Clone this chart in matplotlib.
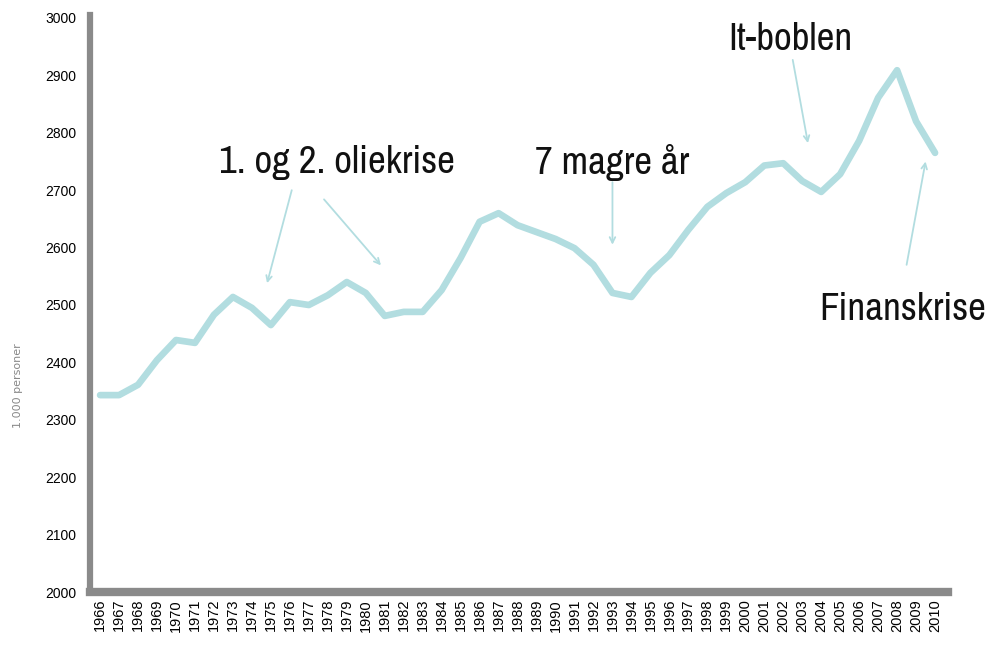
import matplotlib
matplotlib.use("Agg")
import matplotlib.pyplot as plt
from matplotlib import font_manager

YEARS = list(range(1966, 2011))
EMPLOYED = [
    2343, 2343, 2361, 2404, 2439, 2434, 2483, 2514, 2495, 2465,
    2505, 2500, 2517, 2540, 2521, 2481, 2488, 2488, 2526, 2582,
    2645, 2660, 2639, 2627, 2615, 2599, 2570, 2521, 2514, 2556,
    2587, 2631, 2671, 2695, 2714, 2743, 2747, 2716, 2697, 2728,
    2786, 2861, 2909, 2820, 2765,
]
Y_TICKS = list(range(2000, 3001, 100))

# label, text centre, list of (arrow start, arrow end), all in data coords
NOTES = [
    ("1. og 2. oliekrise", (1978.5, 2748),
     [((1976.1, 2700), (1974.8, 2538)), ((1977.8, 2684), (1980.8, 2569))]),
    ("7 magre år", (1993.0, 2748),
     [((1993.0, 2714), (1993.0, 2605))]),
    ("It-boblen", (2002.4, 2962),
     [((2002.5, 2927), (2003.3, 2782))]),
    ("Finanskrise", (2008.3, 2493),
     [((2008.5, 2570), (2009.5, 2750))]),
]

LINE_COLOR = "#b2dde0"
SPINE_COLOR = "#8a8a8a"
TICK_FONT = ["Liberation Sans", "DejaVu Sans"]

# prefer a narrow face if one happens to be installed
narrow = sorted({f.name for f in font_manager.fontManager.ttflist
                 if "Narrow" in f.name or "Condensed" in f.name})
if narrow:
    NOTE_FONT = [narrow[0], "Liberation Sans", "DejaVu Sans"]
    NOTE_SIZE = 28
else:
    NOTE_FONT = ["Liberation Sans", "DejaVu Sans"]
    NOTE_SIZE = 23

fig = plt.figure(figsize=(9.85, 6.54), dpi=100)
ax = fig.add_axes([0.0914, 0.0948, 0.871, 0.8777])

ax.plot(YEARS, EMPLOYED, color=LINE_COLOR, linewidth=4.8, solid_joinstyle="round",
        solid_capstyle="round")

ax.set_xlim(1965.47, 2010.68)
ax.set_ylim(2000, 3000)
ax.set_yticks(Y_TICKS)
ax.set_xticks(YEARS)
ax.set_xticklabels([str(y) for y in YEARS], rotation=90, fontsize=10.5,
                   family=TICK_FONT)
ax.set_yticklabels([str(v) for v in Y_TICKS], fontsize=10, family=TICK_FONT)
ax.tick_params(axis="both", length=0)
ax.tick_params(axis="y", pad=10)
ax.tick_params(axis="x", pad=5)

for side in ["top", "right"]:
    ax.spines[side].set_visible(False)
ax.spines["left"].set_color(SPINE_COLOR)
ax.spines["left"].set_linewidth(4.5)
ax.spines["left"].set_bounds(2000, 3005)
ax.spines["bottom"].set_color(SPINE_COLOR)
ax.spines["bottom"].set_linewidth(6)

ax.set_ylabel("1.000 personer", fontsize=8, color="#888888")
ax.yaxis.set_label_coords(-0.078, 0.36)

for label, pos, arrows in NOTES:
    ax.text(pos[0], pos[1], label, fontsize=NOTE_SIZE, ha="center", va="center",
            family=NOTE_FONT, color="#111111")
    for start, end in arrows:
        ax.annotate("", xy=end, xytext=start,
                    arrowprops=dict(arrowstyle="->", color=LINE_COLOR, lw=1.3,
                                    shrinkA=0, shrinkB=0))

fig.savefig("out.png", dpi=100)
